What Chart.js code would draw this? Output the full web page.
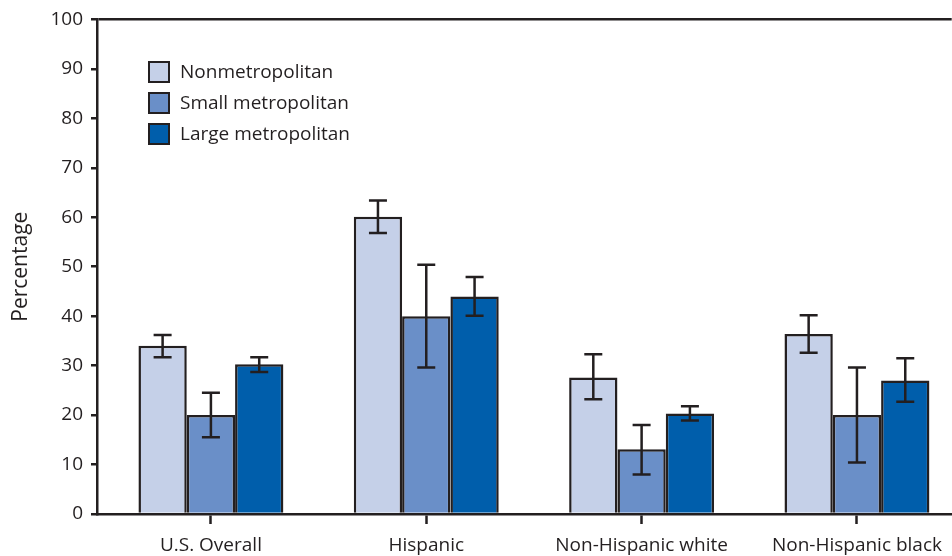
<!DOCTYPE html>
<html>
<head>
<meta charset="utf-8">
<script src="https://cdn.jsdelivr.net/npm/chart.js@4/dist/chart.umd.min.js"></script>
<style>
  html, body { margin: 0; padding: 0; background: #fff; overflow: hidden; }
  #wrap { width: 952px; height: 556px; }
</style>
</head>
<body>
<div id="wrap"><canvas id="chart" width="952" height="556"></canvas></div>
<script>
// Categories and series values (percent)
const categories = ['U.S. Overall', 'Hispanic', 'Non-Hispanic white', 'Non-Hispanic black'];
const seriesNames = ['Nonmetropolitan', 'Small metropolitan', 'Large metropolitan'];

const nonmetro      = [34.0, 60.1, 27.6, 36.4];
const nonmetroLow   = [31.7, 56.8, 23.2, 32.6];
const nonmetroHigh  = [36.2, 63.4, 32.3, 40.2];

const smallMetro     = [20.0, 40.0, 13.1, 20.0];
const smallMetroLow  = [15.5, 29.6, 8.0, 10.4];
const smallMetroHigh = [24.5, 50.4, 18.0, 29.6];

const largeMetro     = [30.3, 44.0, 20.3, 27.0];
const largeMetroLow  = [28.7, 40.1, 18.9, 22.7];
const largeMetroHigh = [31.7, 47.9, 21.8, 31.5];

const yTicks = [0, 10, 20, 30, 40, 50, 60, 70, 80, 90, 100];

const FONT = '"Open Sans", "DejaVu Sans", sans-serif';
const INK = '#231f20';

function toPoints(values) {
    return values.map((v, i) => ({ x: i, y: v }));
}

// Error bars drawn on top of each bar
const errorBars = {
    id: 'errorBars',
    afterDatasetsDraw(chart) {
        const ctx = chart.ctx;
        const yScale = chart.scales.y;
        ctx.save();
        ctx.strokeStyle = INK;
        ctx.lineWidth = 2.5;
        chart.data.datasets.forEach((ds, di) => {
            const meta = chart.getDatasetMeta(di);
            meta.data.forEach((bar, i) => {
                const x = bar.x;
                const top = yScale.getPixelForValue(ds.errHigh[i]);
                const bottom = yScale.getPixelForValue(ds.errLow[i]);
                ctx.beginPath();
                ctx.moveTo(x, top);
                ctx.lineTo(x, bottom);
                ctx.moveTo(x - 9, top);
                ctx.lineTo(x + 9, top);
                ctx.moveTo(x - 9, bottom);
                ctx.lineTo(x + 9, bottom);
                ctx.stroke();
            });
        });
        ctx.restore();
    }
};

// Vertical legend inside the plot
const insideLegend = {
    id: 'insideLegend',
    afterDraw(chart) {
        const ctx = chart.ctx;
        ctx.save();
        ctx.font = '19px ' + FONT;
        ctx.textBaseline = 'middle';
        chart.data.datasets.forEach((ds, i) => {
            const cy = 72 + i * 31;
            ctx.fillStyle = ds.backgroundColor;
            ctx.fillRect(149, cy - 10, 20, 20);
            ctx.strokeStyle = INK;
            ctx.lineWidth = 2;
            ctx.strokeRect(149, cy - 10, 20, 20);
            ctx.fillStyle = INK;
            ctx.fillText(ds.label, 180, cy + 1);
        });
        ctx.restore();
    }
};

const ctx = document.getElementById('chart').getContext('2d');
new Chart(ctx, {
    type: 'bar',
    data: {
        datasets: [
            {
                label: seriesNames[0],
                data: toPoints(nonmetro),
                errLow: nonmetroLow,
                errHigh: nonmetroHigh,
                backgroundColor: '#c5d0e8',
                borderColor: INK,
                borderWidth: 2.5
            },
            {
                label: seriesNames[1],
                data: toPoints(smallMetro),
                errLow: smallMetroLow,
                errHigh: smallMetroHigh,
                backgroundColor: '#6a8fc8',
                borderColor: INK,
                borderWidth: 2.5
            },
            {
                label: seriesNames[2],
                data: toPoints(largeMetro),
                errLow: largeMetroLow,
                errHigh: largeMetroHigh,
                backgroundColor: '#005eab',
                borderColor: INK,
                borderWidth: 2.5
            }
        ]
    },
    options: {
        responsive: false,
        animation: false,
        devicePixelRatio: 1,
        categoryPercentage: 0.673,
        barPercentage: 1.0,
        layout: { padding: { top: 19, right: 0, left: 0, bottom: 0 } },
        plugins: {
            legend: { display: false },
            tooltip: { enabled: false }
        },
        scales: {
            x: {
                type: 'linear',
                min: -0.529,
                max: 3.44,
                offset: false,
                afterBuildTicks: (scale) => {
                    scale.ticks = categories.map((c, i) => ({ value: i }));
                },
                afterFit: (scale) => { scale.height = 42; },
                ticks: {
                    callback: (v) => categories[v],
                    color: INK,
                    font: { family: FONT, size: 19 },
                    padding: 10,
                    maxRotation: 0,
                    autoSkip: false
                },
                grid: {
                    offset: false,
                    drawOnChartArea: false,
                    drawTicks: true,
                    tickLength: 10,
                    tickColor: INK,
                    tickWidth: 2.5
                },
                border: { color: INK, width: 2.5 }
            },
            y: {
                min: 0,
                max: 100,
                afterBuildTicks: (scale) => {
                    scale.ticks = yTicks.map(v => ({ value: v }));
                },
                afterFit: (scale) => { scale.width = 97; },
                ticks: {
                    color: INK,
                    font: { family: FONT, size: 19 },
                    padding: 8
                },
                grid: {
                    color: (c) => (c.tick && c.tick.value === 100 ? INK : 'rgba(0,0,0,0)'),
                    lineWidth: 2.5,
                    drawTicks: true,
                    tickLength: 6,
                    tickColor: INK,
                    tickWidth: 2.5
                },
                border: { color: INK, width: 2.5 },
                title: {
                    display: true,
                    text: 'Percentage',
                    color: INK,
                    font: { family: FONT, size: 21 },
                    padding: { top: 8, bottom: 6 }
                }
            }
        }
    },
    plugins: [errorBars, insideLegend]
});
</script>
</body>
</html>
